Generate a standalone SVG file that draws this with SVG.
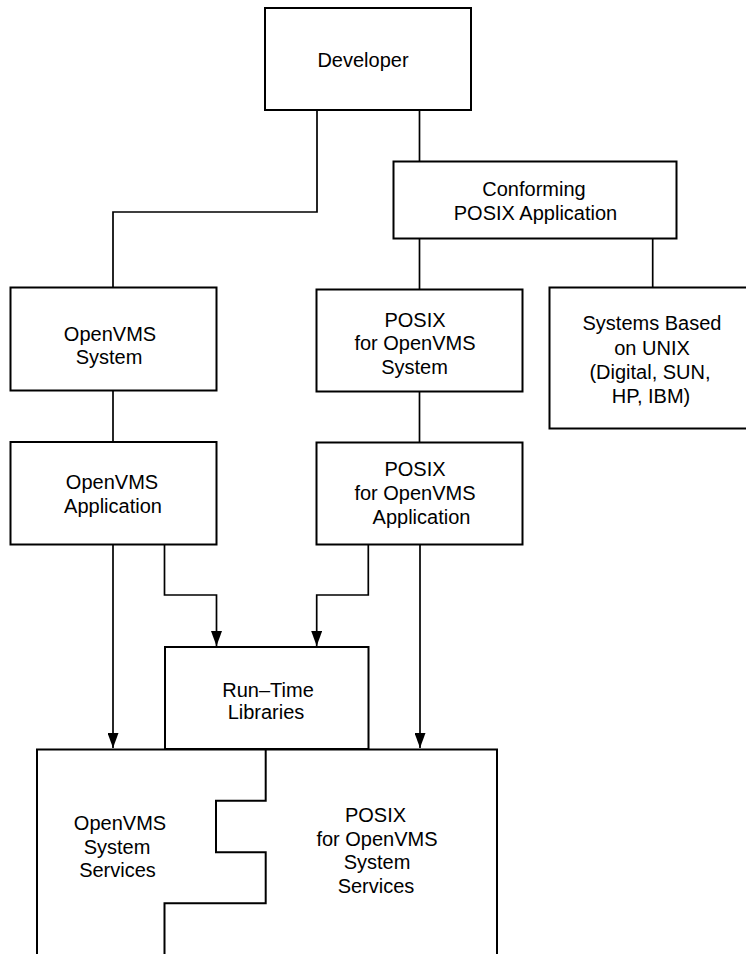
<svg xmlns="http://www.w3.org/2000/svg" width="746" height="954" viewBox="0 0 746 954">
<style>
.box{fill:#fff;stroke:#000;stroke-width:2}
.ln{fill:none;stroke:#000;stroke-width:1.7}
.t{font-family:"Liberation Sans",Arial,Helvetica,sans-serif;font-size:20px;fill:#000;text-anchor:middle}
</style>
<defs>
<marker id="ah" viewBox="0 0 11 15" refX="5.5" refY="15" markerWidth="11" markerHeight="15" markerUnits="userSpaceOnUse" orient="0">
<path d="M0,0 L11,0 L5.5,15 z" fill="#000"/>
</marker>
</defs>
<rect width="746" height="954" fill="#fff"/>
<g id="connectors">
<path class="ln" d="M317,110 V212 H113 V287.5"/>
<path class="ln" d="M419.5,110 V161.5"/>
<path class="ln" d="M419.5,238.5 V289.5"/>
<path class="ln" d="M652.7,238.5 V287.5"/>
<path class="ln" d="M113,390 V442"/>
<path class="ln" d="M419.5,391.5 V442.5"/>
<path class="ln" d="M113,544.5 V748" marker-end="url(#ah)"/>
<path class="ln" d="M164.5,544.5 V595 H216.5 V646" marker-end="url(#ah)"/>
<path class="ln" d="M368.3,544.5 V595 H316.7 V646" marker-end="url(#ah)"/>
<path class="ln" d="M420,544.5 V748" marker-end="url(#ah)"/>
</g>
<g id="developer">
<rect class="box" x="265" y="8" width="206" height="102"/>
<text class="t" x="363" y="67">Developer</text>
</g>
<g id="conforming">
<rect class="box" x="393.5" y="161.5" width="283" height="77"/>
<text class="t" x="534" y="196">Conforming</text>
<text class="t" x="535.5" y="220">POSIX Application</text>
</g>
<g id="openvms-system">
<rect class="box" x="10.5" y="287.5" width="206" height="103"/>
<text class="t" x="110" y="340.5">OpenVMS</text>
<text class="t" x="109" y="364">System</text>
</g>
<g id="posix-system">
<rect class="box" x="316.5" y="289.5" width="206" height="102"/>
<text class="t" x="415" y="326.5">POSIX</text>
<text class="t" x="415" y="350">for OpenVMS</text>
<text class="t" x="414.5" y="374">System</text>
</g>
<g id="unix-systems">
<rect class="box" x="549.5" y="287.5" width="210" height="141"/>
<text class="t" x="652" y="330">Systems Based</text>
<text class="t" x="652" y="354.5">on UNIX</text>
<text class="t" x="650" y="379">(Digital, SUN,</text>
<text class="t" x="651" y="403">HP, IBM)</text>
</g>
<g id="openvms-application">
<rect class="box" x="10.5" y="442" width="206" height="102.5"/>
<text class="t" x="112" y="489">OpenVMS</text>
<text class="t" x="113" y="513">Application</text>
</g>
<g id="posix-application">
<rect class="box" x="316.5" y="442.5" width="206" height="102"/>
<text class="t" x="415" y="476">POSIX</text>
<text class="t" x="415" y="500">for OpenVMS</text>
<text class="t" x="421.5" y="524">Application</text>
</g>
<g id="runtime-libraries">
<rect class="box" x="165" y="647" width="203.5" height="102"/>
<text class="t" x="268" y="696.5">Run–Time</text>
<text class="t" x="266" y="718.5">Libraries</text>
</g>
<g id="system-services">
<path class="box" fill="none" d="M37,954 V749.5 H497 V954"/>
<path class="ln" style="stroke-width:2" d="M265.7,749.5 V800.7 H216 V852.3 H265.7 V903.3 H164.5 V954"/>
<text class="t" x="120" y="830">OpenVMS</text>
<text class="t" x="117" y="853.5">System</text>
<text class="t" x="117.5" y="877">Services</text>
<text class="t" x="375.5" y="822">POSIX</text>
<text class="t" x="377" y="845.5">for OpenVMS</text>
<text class="t" x="377" y="869">System</text>
<text class="t" x="376" y="893">Services</text>
</g>
</svg>
